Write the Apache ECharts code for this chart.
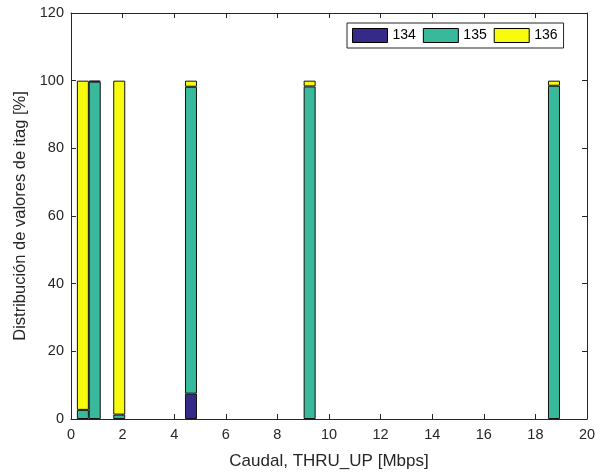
<!DOCTYPE html>
<html><head><meta charset="utf-8">
<script src="https://cdn.jsdelivr.net/npm/echarts@6/dist/echarts.min.js"></script>
<style>html,body{margin:0;padding:0;background:#fff}#c{width:606px;height:473px}</style>
</head><body><div id="c"></div>
<script>
const xPositions = [0.46, 0.92, 1.87, 4.65, 9.25, 18.72];
const seriesNames = ['134', '135', '136'];
const v134 = [0, 0, 0, 7.5, 0, 0];
const v135 = [2.7, 99.7, 1.3, 90.7, 98.3, 98.5];
const v136 = [97.3, 0.3, 98.7, 1.8, 1.7, 1.5];
const xTicks = [0, 2, 4, 6, 8, 10, 12, 14, 16, 18, 20];
const yTicks = [0, 20, 40, 60, 80, 100, 120];
const colors = ['#352a87', '#38b99c', '#f9fb0e'];
const values = [v134, v135, v136];

const font = 'Liberation Sans, Arial, Helvetica, sans-serif';
const axisColor = '#262626';
const chart = echarts.init(document.getElementById('c'));
function axisBase() {
  return {
    axisLine: {show: true, onZero: false, lineStyle: {color: axisColor, width: 1}},
    axisTick: {show: true, inside: true, length: 5, lineStyle: {color: axisColor}},
    splitLine: {show: false}
  };
}
chart.setOption({
  animation: false,
  color: colors,
  textStyle: {fontFamily: font},
  grid: {left: 71, right: 19, top: 13, bottom: 54, show: false, containLabel: false, outerBoundsMode: 'none'},
  legend: {
    left: 347, top: 23,
    orient: 'horizontal',
    itemWidth: 35, itemHeight: 14,
    itemGap: 7,
    padding: [5, 6, 5, 5],
    borderColor: axisColor, borderWidth: 1,
    backgroundColor: '#fff',
    textStyle: {fontSize: 14, color: '#000', fontFamily: font},
    data: seriesNames.map(n => ({name: n, icon: 'rect', itemStyle: {borderColor: '#000', borderWidth: 1}}))
  },
  xAxis: [
    Object.assign(axisBase(), {
      type: 'value', min: 0, max: 20, interval: 2, position: 'bottom',
      name: 'Caudal, THRU_UP [Mbps]', nameLocation: 'middle', nameGap: 34,
      nameTextStyle: {fontSize: 17, color: '#262626', fontFamily: font},
      axisLabel: {fontSize: 14.5, color: '#262626', margin: 8, fontFamily: font,
        formatter: v => xTicks.includes(v) ? String(v) : ''}
    }),
    Object.assign(axisBase(), {
      type: 'value', min: 0, max: 20, interval: 2, position: 'top',
      axisLabel: {show: false}
    })
  ],
  yAxis: [
    Object.assign(axisBase(), {
      type: 'value', min: 0, max: 120, interval: 20, position: 'left',
      name: 'Distribución de valores de itag [%]', nameLocation: 'middle', nameGap: 33,
      nameTextStyle: {fontSize: 16.5, color: '#262626', fontFamily: font},
      axisLabel: {fontSize: 14.5, color: '#262626', margin: 7, fontFamily: font,
        formatter: v => yTicks.includes(v) ? String(v) : ''}
    }),
    Object.assign(axisBase(), {
      type: 'value', min: 0, max: 120, interval: 20, position: 'right',
      axisLabel: {show: false}
    })
  ],
  series: seriesNames.map((n, i) => ({
    name: n, type: 'bar', stack: 'itag',
    xAxisIndex: 0, yAxisIndex: 0,
    barWidth: 12,
    encode: {x: 1, y: 0},
    itemStyle: {color: colors[i], borderColor: '#111', borderWidth: 1},
    data: xPositions.map((x, k) => [values[i][k] === 0 ? '-' : values[i][k], x])
  })).concat([{
    type: 'bar', xAxisIndex: 1, yAxisIndex: 1, data: [], silent: true
  }])
});
</script></body></html>
